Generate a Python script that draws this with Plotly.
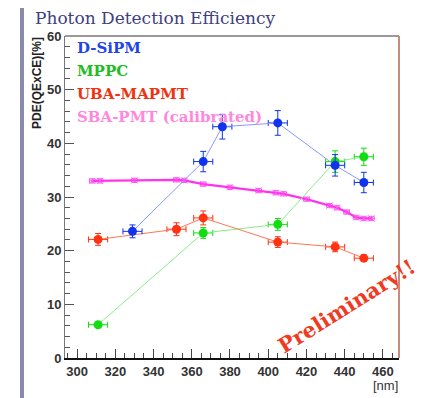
import plotly.graph_objects as go

# ---- data ----
sipm_wl = [329, 366, 376, 405, 435, 450]
sipm_pde = [23.6, 36.6, 43.1, 43.8, 35.9, 32.7]
sipm_err = [1.2, 1.9, 2.3, 2.3, 2.0, 1.9]

mppc_wl = [311, 366, 405, 435, 450]
mppc_pde = [6.2, 23.3, 24.9, 36.6, 37.5]
mppc_err = [0.4, 1.0, 1.1, 2.0, 1.6]

uba_wl = [311, 352, 366, 405, 435, 450]
uba_pde = [22.1, 24.0, 26.1, 21.6, 20.7, 18.6]
uba_err = [1.1, 1.2, 1.3, 1.0, 0.9, 0.6]

sba_wl = [308, 312, 330, 352, 356, 366, 380, 395, 404, 408, 420, 432, 436, 441, 446, 450, 454]
sba_pde = [33.0, 33.0, 33.1, 33.2, 33.1, 32.4, 31.8, 31.2, 30.8, 30.6, 29.6, 28.4, 28.0, 27.2, 26.2, 26.0, 26.0]

legend_names = ["D-SiPM", "MPPC", "UBA-MAPMT", "SBA-PMT (calibrated)"]
legend_colors = ["#2244ee", "#22bb22", "#ee3311", "#ff88dd"]

x_ticks = [300, 320, 340, 360, 380, 400, 420, 440, 460]
y_ticks = [0, 10, 20, 30, 40, 50, 60]

SERIF = "DejaVu Serif"
SANS = "Arial, Liberation Sans, Helvetica, sans-serif"

fig = go.Figure()

def add_series(x, y, err, line_col, mcol, xerr=5):
    fig.add_trace(go.Scatter(
        x=x, y=y, mode="lines+markers",
        line=dict(color=line_col, width=1),
        marker=dict(color=mcol, size=9, symbol="circle"),
        error_y=dict(type="data", array=err, color=mcol, thickness=1, width=3),
        error_x=dict(type="constant", value=xerr, color=mcol, thickness=1, width=3),
        showlegend=False, cliponaxis=False))

fig.add_trace(go.Scatter(
    x=sba_wl, y=sba_pde, mode="lines+markers",
    line=dict(color="#ff33ee", width=2.3),
    marker=dict(color="#ff55ee", size=6, symbol="x-thin", line=dict(color="#ff55ee", width=1)),
    error_y=dict(type="constant", value=0.4, color="#ff55ee", thickness=1, width=2),
    error_x=dict(type="constant", value=1.5, color="#ff55ee", thickness=1, width=2),
    showlegend=False))

add_series(mppc_wl, mppc_pde, mppc_err, "#88ee88", "#11dd11")
add_series(uba_wl, uba_pde, uba_err, "#ff7755", "#ff3311")
add_series(sipm_wl, sipm_pde, sipm_err, "#8899ff", "#1133ee")

# positions: page pixels relative to the plot area (left 65, top 36, bottom 358; 334 x 322)
ys = [48, 71, 94, 117]
annotations = []
for name, col, yp in zip(legend_names, legend_colors, ys):
    annotations.append(dict(
        text="<b>" + name + "</b>", x=(75 - 65) / 334, y=(358 - yp) / 322,
        xref="paper", yref="paper", xanchor="left", yanchor="middle",
        showarrow=False, font=dict(family=SERIF, size=15, color=col)))

annotations.append(dict(
    text="Photon Detection Efficiency", x=(33 - 65) / 334, y=(358 - 18) / 322,
    xref="paper", yref="paper", xanchor="left", yanchor="middle", showarrow=False,
    font=dict(family=SERIF, size=17, color="#404080")))
annotations.append(dict(
    text="<b>PDE(QExCE)[%]</b>", x=(37 - 65) / 334, y=(358 - 83) / 322,
    xref="paper", yref="paper", xanchor="center", yanchor="middle", textangle=-90,
    showarrow=False, font=dict(family=SANS, size=12, color="#222222")))
annotations.append(dict(
    text="[nm]", x=(400 - 65) / 334, y=(358 - 385) / 322,
    xref="paper", yref="paper", xanchor="right", yanchor="middle", showarrow=False,
    font=dict(family=SANS, size=13, color="#333333")))
annotations.append(dict(
    text="<b>Preliminary!!</b>", x=(346 - 65) / 334, y=(358 - 306) / 322,
    xref="paper", yref="paper", xanchor="center", yanchor="middle", textangle=-32,
    showarrow=False, font=dict(family=SERIF, size=21, color="#f03a22")))

shapes = [
    dict(type="rect", xref="paper", yref="paper",
         x0=(20 - 65) / 334, x1=(24 - 65) / 334, y0=-60 / 322, y1=1 + 50 / 322,
         fillcolor="#8a8aae", line=dict(width=0), layer="below"),
    dict(type="line", xref="paper", yref="paper", x0=0, x1=1, y0=1, y1=1,
         line=dict(color="#999999", width=2)),
    dict(type="line", xref="paper", yref="paper", x0=1, x1=1, y0=0, y1=1,
         line=dict(color="#c88a7a", width=2)),
]

# the page body has an 8px margin, so the figure is 8px smaller
fig.update_layout(
    width=417, height=390,
    margin=dict(l=57, r=26, t=28, b=40),
    paper_bgcolor="white", plot_bgcolor="white",
    annotations=annotations, shapes=shapes,
    font=dict(family=SANS, color="#333333"),
    xaxis=dict(range=[293.7, 468.4], tickvals=x_ticks, ticks="inside", ticklen=9,
               tickcolor="#444444", showgrid=False, zeroline=False,
               showline=True, linecolor="#111111", linewidth=2,
               tickfont=dict(family=SANS, size=13, color="#333333"),
               minor=dict(dtick=5, ticks="inside", ticklen=5, tickcolor="#444444")),
    yaxis=dict(range=[0, 60], tickvals=y_ticks, ticks="inside", ticklen=9,
               tickcolor="#555555", showgrid=False, zeroline=False,
               showline=True, linecolor="#777777", linewidth=1,
               tickfont=dict(family=SANS, size=13, color="#333333"),
               minor=dict(dtick=2, ticks="inside", ticklen=5, tickcolor="#555555")),
)
fig.update_xaxes(ticktext=["<b>%d</b>" % v for v in x_ticks])
fig.update_yaxes(ticktext=["<b>%d</b>" % v for v in y_ticks])

fig.write_html("out.html")
